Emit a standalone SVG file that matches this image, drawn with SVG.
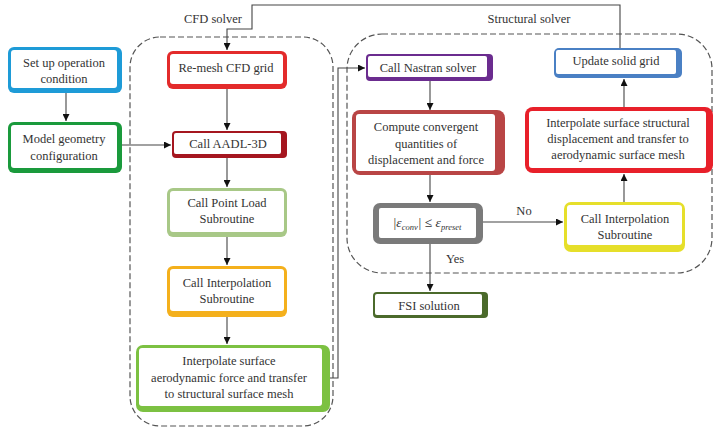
<svg xmlns="http://www.w3.org/2000/svg" width="715" height="430" viewBox="0 0 715 430" font-family="'Liberation Serif', 'DejaVu Serif', serif">
<style>
text{font-family:"Liberation Serif","DejaVu Serif",serif;font-size:12.5px;fill:#333;text-anchor:middle}
.in{fill:#fff}
.cont{fill:none;stroke:#555;stroke-width:1.2;stroke-dasharray:6 3}
.c{fill:none;stroke:#444;stroke-width:1.1}
</style>
<defs>
<marker id="ar" viewBox="0 0 10 10" refX="10" refY="5" markerWidth="7" markerHeight="7" orient="auto" markerUnits="userSpaceOnUse"><path d="M0,0L10,5L0,10z" fill="#111"/></marker>
</defs>
<rect width="715" height="430" fill="#fff"/>
<g id="cfd-solver">
<rect class="cont" x="130" y="37" width="203" height="389" rx="30"/>
<text x="213" y="23">CFD solver</text>
</g>
<g id="structural-solver">
<rect class="cont" x="347" y="34" width="365" height="239" rx="35"/>
<text x="529" y="23">Structural solver</text>
</g>
<g id="connectors">
<path class="c" d="M66,93V121" marker-end="url(#ar)"/>
<path class="c" d="M122,145H171" marker-end="url(#ar)"/>
<path class="c" d="M227,89V130" marker-end="url(#ar)"/>
<path class="c" d="M227,158V187" marker-end="url(#ar)"/>
<path class="c" d="M227,237V265" marker-end="url(#ar)"/>
<path class="c" d="M227,317V344" marker-end="url(#ar)"/>
<path class="c" d="M330,378H338V68H365" marker-end="url(#ar)"/>
<path class="c" d="M430,81V110" marker-end="url(#ar)"/>
<path class="c" d="M430,175V202" marker-end="url(#ar)"/>
<path class="c" d="M483,222H563" marker-end="url(#ar)"/>
<path class="c" d="M430,244V291" marker-end="url(#ar)"/>
<path class="c" d="M624,202V174" marker-end="url(#ar)"/>
<path class="c" d="M624,107V79" marker-end="url(#ar)"/>
<path class="c" d="M620,48V5H252V29H227V50" marker-end="url(#ar)"/>
<text x="524" y="215">No</text>
<text x="455" y="263">Yes</text>
</g>
<g id="setup">
<rect x="8" y="47" width="114" height="46" rx="6" fill="#1e9bd7"/>
<rect class="in" x="11" y="50" width="106" height="38" rx="3"/>
<text x="64" y="67">Set up operation</text>
<text x="64" y="83">condition</text>
</g>
<g id="model">
<rect x="8" y="122" width="114" height="51" rx="6" fill="#1a9a3c"/>
<rect class="in" x="11" y="125" width="106" height="43" rx="3"/>
<text x="64" y="143">Model geometry</text>
<text x="64" y="160">configuration</text>
</g>
<g id="remesh">
<rect x="167" y="51" width="120" height="38" rx="6" fill="#e32b2b"/>
<rect class="in" x="170" y="54" width="113" height="30" rx="3"/>
<text x="226" y="72">Re-mesh CFD grid</text>
</g>
<g id="aadl">
<rect x="172" y="131" width="115" height="27" rx="4" fill="#a5161f"/>
<rect class="in" x="174" y="133" width="107" height="21" rx="2"/>
<text x="228" y="148">Call AADL-3D</text>
</g>
<g id="pointload">
<rect x="167" y="188" width="120" height="49" rx="6" fill="#a8c887"/>
<rect class="in" x="170" y="191" width="114" height="41" rx="3"/>
<text x="227" y="207">Call Point Load</text>
<text x="227" y="223">Subroutine</text>
</g>
<g id="interp-cfd">
<rect x="167" y="266" width="120" height="51" rx="6" fill="#f4b01c"/>
<rect class="in" x="170" y="269" width="114" height="42" rx="3"/>
<text x="227" y="287">Call Interpolation</text>
<text x="227" y="303">Subroutine</text>
</g>
<g id="interp-aero">
<rect x="136" y="345" width="194" height="67" rx="7" fill="#7cc142"/>
<rect class="in" x="139" y="348" width="183" height="58" rx="3"/>
<text x="229" y="365">Interpolate surface</text>
<text x="229" y="382">aerodynamic force and transfer</text>
<text x="229" y="398">to structural surface mesh</text>
</g>
<g id="nastran">
<rect x="366" y="54" width="127" height="27" rx="4" fill="#6b2c8f"/>
<rect class="in" x="368" y="56" width="119" height="21" rx="2"/>
<text x="428" y="72">Call Nastran solver</text>
</g>
<g id="compute">
<rect x="352" y="110" width="153" height="65" rx="8" fill="#b94545"/>
<rect class="in" x="356" y="114" width="139" height="57" rx="3"/>
<text x="426" y="131">Compute convergent</text>
<text x="426" y="148">quantities of</text>
<text x="426" y="164">displacement and force</text>
</g>
<g id="converge">
<rect x="373" y="203" width="110" height="41" rx="7" fill="#7a7a7a"/>
<rect class="in" x="379" y="208" width="97" height="30" rx="2"/>
<text x="427" y="227" style="font-style:italic;font-size:13.5px">|ε<tspan font-size="8.5" dy="3">conv</tspan><tspan dy="-3">| ≤ ε</tspan><tspan font-size="8.5" dy="3">preset</tspan></text>
</g>
<g id="fsi">
<rect x="373" y="292" width="115" height="26" rx="4" fill="#4b6a2b"/>
<rect class="in" x="375" y="294" width="107" height="21" rx="2"/>
<text x="429" y="310">FSI solution</text>
</g>
<g id="interp-struct-call">
<rect x="564" y="202" width="121" height="50" rx="7" fill="#e6df2a"/>
<rect class="in" x="567" y="205" width="115" height="40" rx="3"/>
<text x="625" y="223">Call Interpolation</text>
<text x="625" y="239">Subroutine</text>
</g>
<g id="interp-struct">
<rect x="525" y="107" width="188" height="66" rx="8" fill="#e8202a"/>
<rect class="in" x="529" y="111" width="177" height="57" rx="3"/>
<text x="618" y="127">Interpolate surface structural</text>
<text x="618" y="143">displacement and transfer to</text>
<text x="618" y="159">aerodynamic surface mesh</text>
</g>
<g id="update">
<rect x="554" y="48" width="128" height="30" rx="5" fill="#4a80c4"/>
<rect class="in" x="556" y="50" width="120" height="24" rx="2"/>
<text x="616" y="65">Update solid grid</text>
</g>
</svg>
